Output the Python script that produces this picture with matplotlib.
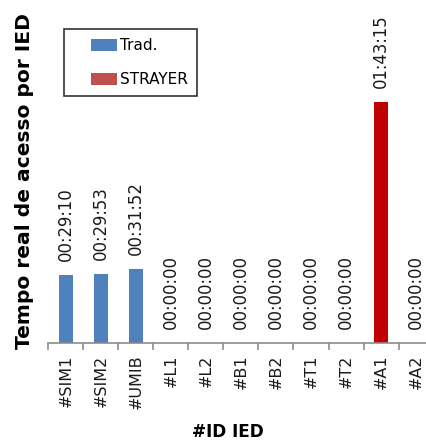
import matplotlib
matplotlib.use("Agg")
import matplotlib.pyplot as plt
from matplotlib.patches import Rectangle, Patch
from matplotlib.legend_handler import HandlerPatch

# IED identifiers and measured access times (hh:mm:ss)
categories = ["#SIM1", "#SIM2", "#UMIB", "#L1", "#L2", "#B1", "#B2",
              "#T1", "#T2", "#A1", "#A2"]
times = ["00:29:10", "00:29:53", "00:31:52", "00:00:00", "00:00:00",
         "00:00:00", "00:00:00", "00:00:00", "00:00:00", "01:43:15",
         "00:00:00"]
method = ["Trad.", "Trad.", "Trad.", "Trad.", "Trad.", "Trad.", "Trad.",
          "Trad.", "Trad.", "STRAYER", "STRAYER"]
series_names = ["Trad.", "STRAYER"]

bar_colors = {"Trad.": "#4F81BD", "STRAYER": "#C00000"}
legend_colors = {"Trad.": "#4F81BD", "STRAYER": "#C0504D"}


def to_seconds(t):
    h, m, s = (int(p) for p in t.split(":"))
    return h * 3600 + m * 60 + s


seconds = [to_seconds(t) for t in times]

W, H = 426, 443
fig = plt.figure(figsize=(W / 100, H / 100), dpi=100)
ax = fig.add_axes([48.3 / W, 1 - 343.3 / H, 385.3 / W, 343.3 / H])

x = list(range(len(categories)))
ax.bar(x, seconds, width=0.4, color=[bar_colors[m] for m in method],
       zorder=2)

for xi, s, t in zip(x, seconds, times):
    ax.annotate(t, (xi, s), xytext=(0, 10), textcoords="offset points",
                rotation=90, ha="center", va="bottom", fontsize=11.9,
                color="#1a1a1a")

ax.set_xlim(-0.5, len(categories) - 0.5)
ax.set_ylim(0, 8825)

for side in ("left", "right", "top"):
    ax.spines[side].set_visible(False)
ax.spines["bottom"].set_color("#8c8c8c")
ax.spines["bottom"].set_linewidth(1.2)
ax.set_yticks([])

# category labels centred, tick marks on the category boundaries
ax.set_xticks(x)
ax.set_xticklabels(categories, rotation=90, fontsize=11.5, color="#1a1a1a")
ax.tick_params(axis="x", which="major", length=0, pad=8)
ax.set_xticks([i - 0.5 for i in range(len(categories) + 1)], minor=True)
ax.tick_params(axis="x", which="minor", length=5, width=1.2,
               color="#8c8c8c")

ax.set_xlabel("#ID IED", fontsize=12.2, fontweight="bold", va="center")
ax.xaxis.set_label_coords(0.465, -0.258)
ax.set_ylabel("Tempo real de acesso por IED", fontsize=14.6,
              fontweight="bold", va="center")
ax.yaxis.set_label_coords(-0.0605, 0.473)


def offset_patch(legend, orig_handle, xdescent, ydescent, width, height,
                 fontsize):
    pw = 26 * 72 / 100
    return Rectangle((width - pw - xdescent, -ydescent), pw, height)


handles = [Patch(facecolor=legend_colors[n], label=n) for n in series_names]
leg = fig.legend(handles=handles, loc="upper left",
                 bbox_to_anchor=(64 / W, 1 - 29 / H),
                 bbox_transform=fig.transFigure, fontsize=11,
                 handlelength=2.87, handleheight=0.8, handletextpad=0.2,
                 labelspacing=1.25, borderpad=0.6, borderaxespad=0,
                 fancybox=False, framealpha=1,
                 handler_map={Patch: HandlerPatch(patch_func=offset_patch)})
leg.get_frame().set_edgecolor("#333333")
leg.get_frame().set_linewidth(1.2)

fig.savefig("out.png", dpi=100)
